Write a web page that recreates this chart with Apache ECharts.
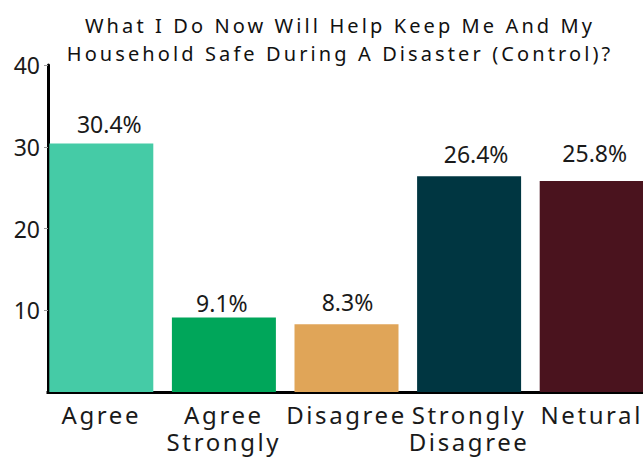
<!DOCTYPE html>
<html>
<head>
<meta charset="utf-8">
<script src="https://cdn.jsdelivr.net/npm/echarts@6/dist/echarts.min.js"></script>
<style>
  html, body { margin: 0; padding: 0; background: #fff; }
  #chart { width: 643px; height: 457px; }
</style>
</head>
<body>
<div id="chart"></div>
<script>
// Survey responses (percent of respondents)
const categories = ['Agree', 'Agree Strongly', 'Disagree', 'Strongly Disagree', 'Netural'];
const values = [30.4, 9.1, 8.3, 26.4, 25.8];
const barColors = ['#45CBA6', '#00A65A', '#E0A558', '#003641', '#4A131E'];
const yTicks = { min: 0, max: 40, interval: 10 };
const titleText = 'What I Do Now Will Help Keep Me And My\nHousehold Safe During A Disaster (Control)?';

const FONT = '"Noto Sans", "Open Sans", sans-serif';

// small hand-placed nudges for the value labels, [dx, dy] in px
const labelNudge = [[8, -3], [-2, 2], [1, -6], [7, -6], [3, -12]];

const chart = echarts.init(document.getElementById('chart'), null, { renderer: 'svg' });

chart.setOption({
  animation: false,
  backgroundColor: '#fff',
  title: {
    text: titleText,
    left: 335,
    top: 6,
    textAlign: 'center',
    textStyle: {
      fontFamily: FONT,
      fontSize: 20,
      fontWeight: 'normal',
      color: '#111',
      lineHeight: 28
    }
  },
  grid: {
    left: 40, top: 65, width: 613, height: 327,
    containLabel: false,
    outerBoundsMode: 'none'
  },
  xAxis: {
    type: 'category',
    data: categories,
    axisLine: { show: true, lineStyle: { color: '#000', width: 3 } },
    axisTick: { show: false },
    axisLabel: {
      interval: 0,
      margin: 9,
      fontFamily: FONT,
      fontSize: 24,
      color: '#1a1a1a',
      lineHeight: 27,
      formatter: (v) => v.replace(' ', '\n')
    }
  },
  yAxis: {
    type: 'value',
    min: yTicks.min,
    max: yTicks.max,
    interval: yTicks.interval,
    offset: -8,
    splitLine: { show: false },
    axisLine: { show: true, lineStyle: { color: '#000', width: 3 } },
    axisTick: { show: true, length: 4, lineStyle: { color: '#999', width: 1 } },
    axisLabel: {
      showMinLabel: false,
      margin: 8,
      fontFamily: FONT,
      fontSize: 23,
      color: '#1a1a1a'
    }
  },
  series: [{
    type: 'bar',
    barWidth: 104,
    data: values.map((v, i) => ({
      value: v,
      itemStyle: { color: barColors[i] },
      label: { offset: labelNudge[i] }
    })),
    label: {
      show: true,
      position: 'top',
      distance: 5,
      fontFamily: FONT,
      fontSize: 23,
      color: '#1a1a1a',
      formatter: (p) => p.value.toFixed(1) + '%'
    }
  }],
  graphic: [{
    // tidy the corner where the category axis meets the value axis
    type: 'rect',
    left: 28,
    top: 388,
    shape: { width: 18.5, height: 10 },
    style: { fill: '#fff' },
    z: 100
  }]
});

// Wide tracking for the title and category names (numbers stay tight)
function applyTracking() {
  document.querySelectorAll('#chart text').forEach((t) => {
    const s = t.textContent.trim();
    if (/^[\d.%]+$/.test(s)) return;
    const isTitle = titleText.split('\n').some((line) => line === s);
    t.style.letterSpacing = isTitle ? '3.1px' : '2.6px';
  });
}
applyTracking();
chart.on('finished', applyTracking);
</script>
</body>
</html>
